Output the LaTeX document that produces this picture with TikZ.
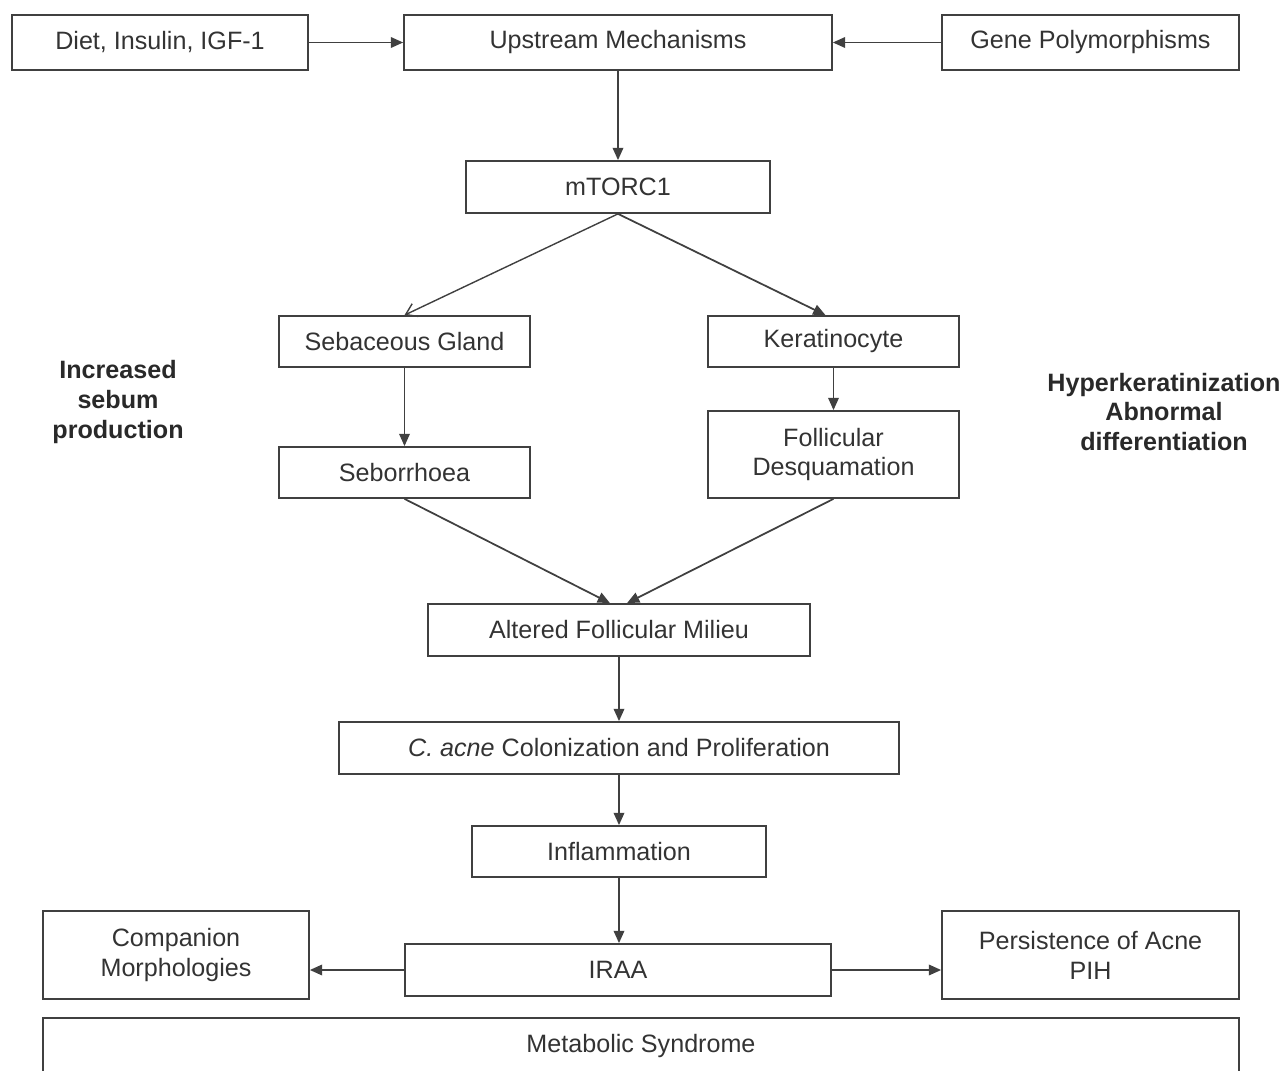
\documentclass[tikz,border=0pt]{standalone}
\usepackage{fontspec}
\setmainfont{Liberation Sans}
\usetikzlibrary{arrows.meta}
\definecolor{ink}{rgb}{0.2,0.2,0.2}
\definecolor{framecol}{rgb}{0.25,0.25,0.25}
\begin{document}
\begin{tikzpicture}[x=0.02cm,y=-0.02cm,
  font=\fontsize{14.3}{17}\selectfont,
  box/.style={draw=framecol,line width=1pt,text=ink,align=center,inner sep=0pt},
  side/.style={text=ink!80!black,align=center,font=\fontsize{14.3}{17}\selectfont\bfseries},
  flow/.style={draw=framecol,line width=1pt,-{Triangle[length=7pt,width=6pt]}},
  openflow/.style={draw=framecol,line width=0.8pt,-{Straight Barb[length=6pt,width=8pt]}}]
\useasboundingbox (0,0) rectangle (1286,1071);

% top row
\node[box,minimum width=5.92cm,minimum height=1.10cm] (diet) at (160,42.5) {Diet, Insulin, IGF-1};
\node[box,minimum width=8.56cm,minimum height=1.10cm] (up) at (618,42.5) {Upstream Mechanisms};
\node[box,minimum width=5.94cm,minimum height=1.10cm] (gene) at (1090.5,42.5) {Gene Polymorphisms};

\node[box,minimum width=6.08cm,minimum height=1.04cm] (mtorc) at (618,187) {mTORC1};

% two branches
\node[box,minimum width=5.02cm,minimum height=1.02cm] (seb) at (404.5,341.5) {Sebaceous Gland};
\node[box,minimum width=5.02cm,minimum height=1.02cm] (ker) at (833.5,341.5) {Keratinocyte};
\node[box,minimum width=5.02cm,minimum height=1.02cm] (sebo) at (404.5,472.5) {Seborrhoea};
\node[box,minimum width=5.02cm,minimum height=1.74cm] (fol) at (833.5,454.5) {Follicular\\Desquamation};

\node[side] (lbl1) at (118,402) {Increased\\sebum\\production};
\node[side] (lbl2) at (1164,412) {Hyperkeratinization\\Abnormal\\differentiation};

% main chain
\node[box,minimum width=7.64cm,minimum height=1.04cm] (mil) at (619,630) {Altered Follicular Milieu};
\node[box,minimum width=11.2cm,minimum height=1.04cm] (cac) at (619,748) {\textit{C. acne} Colonization and Proliferation};
\node[box,minimum width=5.88cm,minimum height=1.02cm] (inf) at (619,851.5) {Inflammation};
\node[box,minimum width=8.52cm,minimum height=1.04cm] (iraa) at (618,970) {IRAA};
\node[box,minimum width=5.32cm,minimum height=1.76cm] (comp) at (176,955) {Companion\\Morphologies};
\node[box,minimum width=5.94cm,minimum height=1.76cm] (pers) at (1090.5,955) {Persistence of Acne\\PIH};
\node[box,minimum width=23.92cm,minimum height=1.12cm] (met) at (641,1046) {Metabolic Syndrome};

% connectors
\draw[flow] (diet.east) -- (up.west);
\draw[flow] (gene.west) -- (up.east);
\draw[flow] (up.south) -- (mtorc.north);
\draw[openflow] (mtorc.south) -- (seb.north);
\draw[flow] (mtorc.south) -- ([xshift=-0.16cm]ker.north);
\draw[flow] (seb.south) -- (sebo.north);
\draw[flow] (ker.south) -- (fol.north);
\draw[flow] (sebo.south) -- ([xshift=-0.18cm]mil.north);
\draw[flow] (fol.south) -- ([xshift=0.16cm]mil.north);
\draw[flow] (mil.south) -- (cac.north);
\draw[flow] (cac.south) -- (inf.north);
\draw[flow] (inf.south) -- ([xshift=0.02cm]iraa.north);
\draw[flow] (iraa.west) -- (iraa.west -| comp.east);
\draw[flow] (iraa.east) -- (iraa.east -| pers.west);
\end{tikzpicture}
\end{document}
